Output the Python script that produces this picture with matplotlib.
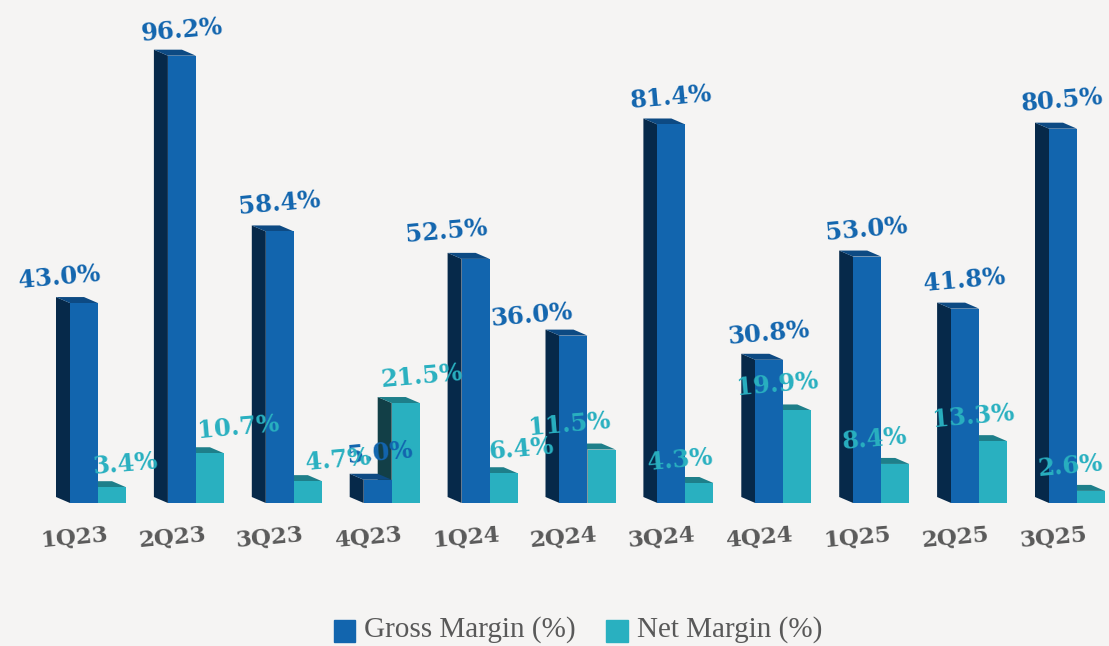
import numpy as np
import matplotlib.pyplot as plt
from matplotlib.patches import Patch
from matplotlib.transforms import ScaledTranslation

quarters = ['1Q23', '2Q23', '3Q23', '4Q23', '1Q24', '2Q24', '3Q24', '4Q24', '1Q25', '2Q25', '3Q25']
gross_margin = [43.0, 96.2, 58.4, 5.0, 52.5, 36.0, 81.4, 30.8, 53.0, 41.8, 80.5]
net_margin = [3.4, 10.7, 4.7, 21.5, 6.4, 11.5, 4.3, 19.9, 8.4, 13.3, 2.6]

BG = '#F5F4F3'
BLUE, BLUE_SIDE, BLUE_TOP = '#1265AE', '#06294A', '#0D4A83'
TEAL, TEAL_SIDE, TEAL_TOP = '#29B0C0', '#123F47', '#1E7F8A'
GREY = '#595959'

# pixel scale of the reference
W, H = 1109, 646
STEP = 97.9
PX_PER_PCT = 4.65
BASE = 503
X0 = 98

# label nudges in pixels, the labels dodge each other by hand in the original
gross_dx = [-39, -14, -14, -12, -43, -56, -14, -15, -15, -15, -15]
gross_dy = [26, 25, 28, 27, 27, 20, 27, 26, 27, 28, 28]
net_dx = [13, 28, 30, 16, 18, -32, -19, -20, -20, -20, -21]
net_dy = [23, 26, 21, 27, 24, 25, 23, 26, 25, 25, 25]

fig = plt.figure(figsize=(W / 100, H / 100), dpi=100, facecolor=BG)
ax = fig.add_axes([0, 1 - BASE / H, 1, BASE / H])
ax.set_facecolor('none')
ax.set_xlim(-X0 / STEP, (W - X0) / STEP)
ax.set_ylim(0, BASE / PX_PER_PCT)

x = np.arange(len(quarters))
bw = 28 / STEP
dx = 14 / STEP
dy = 6 / PX_PER_PCT


def bar3d(left, v, front, side, top, z):
    ax.bar(left + bw / 2, v, bw, color=front, zorder=z + 0.2)
    ax.fill([left - dx, left, left, left - dx],
            [dy, 0, v, v + dy], color=side, lw=0, zorder=z)
    ax.fill([left - dx, left, left + bw, left + bw - dx],
            [v + dy, v, v, v + dy], color=top, lw=0, zorder=z + 0.1)


for i in x:
    bar3d(i, net_margin[i], TEAL, TEAL_SIDE, TEAL_TOP, 2)
    bar3d(i - bw, gross_margin[i], BLUE, BLUE_SIDE, BLUE_TOP, 3)

label_font = dict(family='DejaVu Serif', fontweight='bold', fontsize=17.5, rotation=5,
                  ha='center', va='center', zorder=6)
px = 72 / 100
for i in x:
    ax.annotate(f'{gross_margin[i]:.1f}%', (i, gross_margin[i]), textcoords='offset points',
                xytext=(gross_dx[i] * px, gross_dy[i] * px), color=BLUE, **label_font)
for i in x:
    ax.annotate(f'{net_margin[i]:.1f}%', (i + bw / 2, net_margin[i]), textcoords='offset points',
                xytext=(net_dx[i] * px, net_dy[i] * px), color=TEAL, **label_font)

ax.set_xticks(x)
ax.set_xticklabels(quarters, family='DejaVu Serif', fontweight='bold', fontsize=16.5,
                   color=GREY, rotation=5, ha='center', va='center')
ax.tick_params(axis='x', length=0, pad=25)
ax.set_yticks([])
for s in ax.spines.values():
    s.set_visible(False)
shift = ScaledTranslation(-24 / 100, 0, fig.dpi_scale_trans)
for t in ax.get_xticklabels():
    t.set_transform(t.get_transform() + shift)

handles = [Patch(color=BLUE, label='Gross Margin (%)'), Patch(color=TEAL, label='Net Margin (%)')]
leg = fig.legend(handles=handles, loc='center', bbox_to_anchor=(578 / W, 1 - 629 / H), ncol=2,
                 frameon=False, prop={'family': 'Liberation Serif', 'size': 21}, labelcolor=GREY,
                 handlelength=0.75, handleheight=0.75, handletextpad=0.31, columnspacing=1.03)
# squares sit a little lower than the text in the original
for p in leg.get_patches():
    p.set_y(p.get_y() - 3.5)

plt.savefig('out.png', facecolor=BG)
